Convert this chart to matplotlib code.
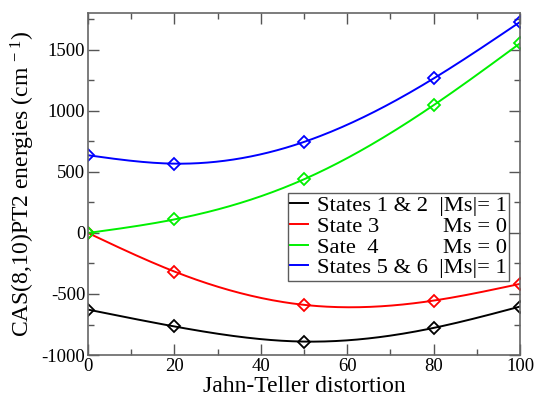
import numpy as np
import matplotlib
matplotlib.use("Agg")
import matplotlib.pyplot as plt
from matplotlib.ticker import MultipleLocator

plt.rcParams['font.family'] = ['Liberation Serif', 'DejaVu Serif']
plt.rcParams['mathtext.default'] = 'regular'
plt.rcParams['axes.unicode_minus'] = False

# Jahn-Teller distortion values and CAS(8,10)PT2 energies (cm^-1)
distortion = [0, 20, 50, 80, 100]
states_1_2 = [-628, -766, -890, -778, -603]
state_3 = [0, -316, -589, -554, -417]
state_4 = [0, 111, 440, 1047, 1554]
states_5_6 = [637, 568, 746, 1266, 1729]

labels_left = ["States 1 & 2  |Ms|= 1", "State 3", "Sate  4", "States 5 & 6  |Ms|= 1"]
labels_right = [None, "Ms = 0", "Ms = 0", None]
colors = ["#000000", "#ff0000", "#00f000", "#0000ff"]


def natural_spline(x, y, n=200):
    x = np.asarray(x, float)
    y = np.asarray(y, float)
    m = len(x)
    h = np.diff(x)
    A = np.zeros((m, m))
    b = np.zeros(m)
    A[0, 0] = A[-1, -1] = 1.0
    for i in range(1, m - 1):
        A[i, i - 1] = h[i - 1]
        A[i, i] = 2 * (h[i - 1] + h[i])
        A[i, i + 1] = h[i]
        b[i] = 6 * ((y[i + 1] - y[i]) / h[i] - (y[i] - y[i - 1]) / h[i - 1])
    M = np.linalg.solve(A, b)
    xs = np.linspace(x[0], x[-1], n)
    idx = np.clip(np.searchsorted(x, xs) - 1, 0, m - 2)
    x0, x1 = x[idx], x[idx + 1]
    hh = x1 - x0
    t0 = x1 - xs
    t1 = xs - x0
    ys = (M[idx] * t0 ** 3 + M[idx + 1] * t1 ** 3) / (6 * hh) \
        + (y[idx] / hh - M[idx] * hh / 6) * t0 \
        + (y[idx + 1] / hh - M[idx + 1] * hh / 6) * t1
    return xs, ys


fig = plt.figure(figsize=(5.36, 3.96), dpi=100)
ax = fig.add_axes([0.1642, 0.1035, 0.806, 0.8629])

handles = []
for series, c, lab in zip([states_1_2, state_3, state_4, states_5_6], colors, labels_left):
    xs, ys = natural_spline(distortion, series)
    line, = ax.plot(xs, ys, color=c, lw=1.4, label=lab)
    ax.plot(distortion, series, ls='none', marker='D', ms=6, mfc='none',
            mec=c, mew=1.3)
    handles.append(line)

ax.set_xlim(0, 100)
ax.set_ylim(-1000, 1800)
ax.xaxis.set_major_locator(MultipleLocator(20))
ax.xaxis.set_minor_locator(MultipleLocator(10))
ax.yaxis.set_major_locator(MultipleLocator(500))
ax.yaxis.set_minor_locator(MultipleLocator(250))
ax.tick_params(which='both', direction='in', top=True, right=True,
               color='#555555', labelsize=13.5, pad=2)
ax.tick_params(which='major', length=8, width=1)
ax.tick_params(which='minor', length=4.5, width=1)
for s in ax.spines.values():
    s.set_color('#666666')
    s.set_linewidth(1.2)

ax.set_xlabel("Jahn-Teller distortion", fontsize=17, labelpad=1)
ax.set_ylabel("CAS(8,10)PT2 energies (cm$^{\\,-1}$)", fontsize=17, labelpad=3)

leg = ax.legend(handles=handles, loc='upper left', bbox_to_anchor=(0.463, 0.474),
                fontsize=16.2, frameon=True, fancybox=False, handlelength=0.8,
                handletextpad=0.4, borderpad=0.1, labelspacing=0.0,
                borderaxespad=0)
leg.get_frame().set_edgecolor('#333333')
leg.get_frame().set_linewidth(1.0)

# right-hand column of the legend, aligned with the end of the widest rows
fig.canvas.draw()
renderer = fig.canvas.get_renderer()
texts = leg.get_texts()
right_edge = max(t.get_window_extent(renderer).x1 for t in texts)
inv = fig.transFigure.inverted()
for t, rlab in zip(texts, labels_right):
    if rlab is None:
        continue
    bb = t.get_window_extent(renderer)
    xf, yf = inv.transform((right_edge, bb.y0))
    fig.text(xf, yf, rlab, ha='right', va='bottom', fontsize=16.2)

fig.savefig("out.png", dpi=100)
